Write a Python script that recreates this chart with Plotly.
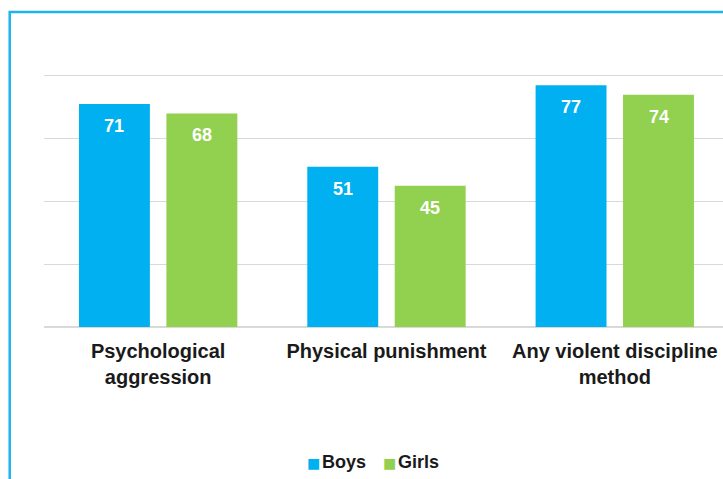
import plotly.graph_objects as go

categories = ["Psychological<br>aggression", "Physical punishment", "Any violent discipline<br>method"]
boys = [71, 51, 77]
girls = [68, 45, 74]
series_names = ["Boys", "Girls"]
colors = ["#00b0f0", "#92d050"]
y_ticks = [0, 20, 40, 60, 80, 100]

W, H = 723, 479
FONT = "Liberation Sans, Arial, sans-serif"

fig = go.Figure()
for name, vals, col in zip(series_names, [boys, girls], colors):
    fig.add_trace(go.Bar(
        name=name, x=categories, y=vals, marker=dict(color=col, line=dict(width=0)),
        offsetgroup=name, showlegend=False,
    ))

# value labels just inside the top of each bar
for i, (name, vals) in enumerate(zip(series_names, [boys, girls])):
    shift = -0.1915 if i == 0 else 0.1915
    for j, v in enumerate(vals):
        fig.add_annotation(
            x=j + shift, y=v, xref="x", yref="y", text=f"<b>{v}</b>",
            showarrow=False, yshift=-22, yanchor="middle",
            font=dict(family=FONT, size=18, color="white"),
        )

# compact legend: coloured square followed by the series name
legend_x = [0.384, 0.496]
for name, col, lx in zip(series_names, colors, legend_x):
    fig.add_annotation(
        xref="paper", yref="paper", x=lx, y=-0.43, xanchor="left", yanchor="middle",
        showarrow=False,
        text=(f"<span style='color:{col};font-family:DejaVu Sans;font-size:14px'>■</span>"
              f"<span style='font-size:6px'> </span><b>{name}</b>"),
        font=dict(family=FONT, size=18, color="#1a1a1a"),
    )

# outer frame line
fig.add_shape(type="rect", xref="paper", yref="paper",
              x0=-0.0505, x1=1.05, y0=-0.6, y1=1.003,
              line=dict(color="#1fb3ec", width=2.5), fillcolor="rgba(0,0,0,0)", layer="above")

fig.update_layout(
    width=W, height=H,
    margin=dict(l=44, r=0, t=13, b=152),
    paper_bgcolor="white", plot_bgcolor="white",
    barmode="group", bargap=0.234, bargroupgap=0.189,
    font=dict(family=FONT, color="#1a1a1a"),
    xaxis=dict(
        type="category", range=[-0.5, 2.474], showgrid=False, zeroline=False,
        showline=False, ticks="outside", ticklen=6, tickcolor="rgba(0,0,0,0)",
        tickfont=dict(family=FONT, size=20, color="#1a1a1a"),
        tickprefix="<b>", ticksuffix="</b>",
    ),
    yaxis=dict(
        range=[0, 100], tickvals=y_ticks, showticklabels=False,
        showgrid=True, gridcolor="#d9d9d9", gridwidth=1,
        zeroline=True, zerolinecolor="#d9d9d9", zerolinewidth=1.5,
    ),
    showlegend=False,
)

fig.write_html("out.html")
